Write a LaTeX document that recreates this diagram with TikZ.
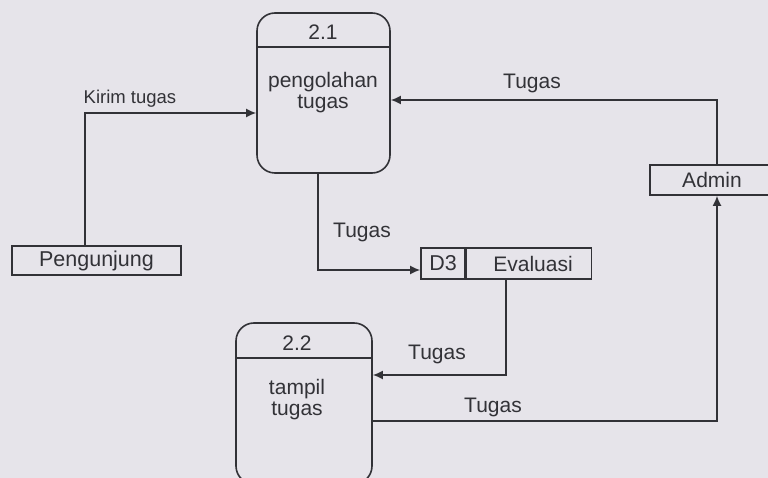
\documentclass[tikz,border=0pt]{standalone}
\usepackage{fontspec}
\setmainfont{Liberation Sans}
\usetikzlibrary{arrows.meta,calc}
\definecolor{bg}{RGB}{230,228,234}
\definecolor{ink}{RGB}{50,50,55}
\begin{document}
\begin{tikzpicture}[x=1pt,y=-1pt,
  line width=1.6pt, draw=ink, text=ink,
  proc/.style={draw, rounded corners=18pt, minimum width=#1, inner sep=0pt},
  ent/.style={draw, rectangle, inner sep=0pt, font=\fontsize{21.5}{22}\selectfont},
  lbl/.style={font=\fontsize{21}{21}\selectfont, inner sep=0pt, align=center},
  flow/.style={-{Latex[length=10pt,width=9pt]}}]
\fill[bg] (0,0) rectangle (768,478);
\clip (0,0) rectangle (768,478);
% processes
\node[proc=133pt, minimum height=160pt] (p21) at (323.5,93) {};
\draw (p21.west |- 0,47) -- (p21.east |- 0,47);
\node[lbl] (n21) at (323,32) {2.1};
\node[lbl] (t21) at (323,93) {pengolahan\\tugas};
\node[proc=136pt, minimum height=161pt] (p22) at (304,403.5) {};
\draw (p22.west |- 0,358) -- (p22.east |- 0,358);
\node[lbl] (n22) at (297,343) {2.2};
\node[lbl] (t22) at (297,400) {tampil\\tugas};
% entities
\node[ent, minimum width=169pt, minimum height=29pt] (peng) at (96.5,260.5) {Pengunjung};
\node[ent, minimum width=130pt, minimum height=30pt] (admin) at (715,180) {};
\node[lbl] (adm) at (712,180) {Admin};
% data store
\node[ent, minimum width=44pt, minimum height=31pt] (d3) at (443,263.5) {D3};
\node[ent, minimum width=125pt, minimum height=31pt, anchor=west] (ev) at (d3.east) {};
\node[lbl] (evt) at (533,263.5) {Evaluasi};
% flows
\coordinate (c1) at (85,113);
\draw[flow] (c1 |- peng.north) -- (c1) -- (p21.west |- c1);
\node[lbl, font=\fontsize{18.5}{20}\selectfont] (l1) at (130,99) {Kirim tugas};
\coordinate (c2) at (717,100);
\draw[flow] (c2 |- admin.north) -- (c2) -- (p21.east |- c2);
\node[lbl] (l2) at (532,83) {Tugas};
\coordinate (c3) at (318,270);
\draw[flow] (c3 |- p21.south) -- (c3) -- (d3.west |- c3);
\node[lbl] (l3) at (362,232) {Tugas};
\coordinate (c4) at (506,375);
\draw[flow] (c4 |- ev.south) -- (c4) -- (p22.east |- c4);
\node[lbl] (l4) at (437,354) {Tugas};
\coordinate (c5) at (717,421);
\draw[flow] (p22.east |- c5) -- (c5) -- (c5 |- admin.south);
\node[lbl] (l5) at (493,407) {Tugas};
\end{tikzpicture}
\end{document}
